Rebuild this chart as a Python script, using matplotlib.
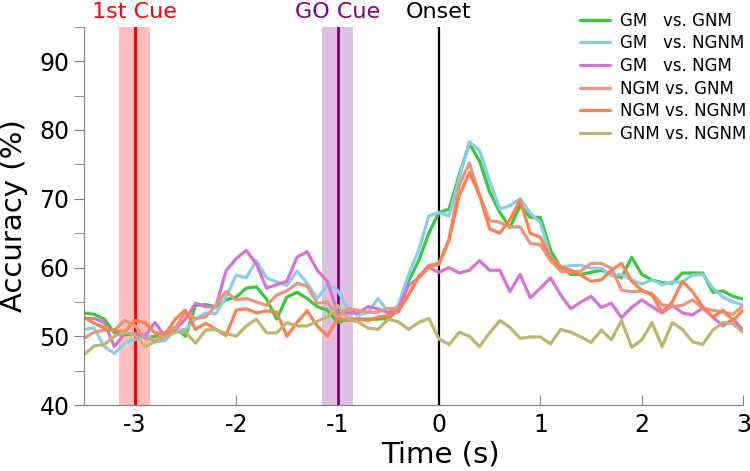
import numpy as np
import matplotlib
matplotlib.use("Agg")
import matplotlib.pyplot as plt
from matplotlib.ticker import MultipleLocator

plt.rcParams["font.family"] = "DejaVu Sans"
plt.rcParams["axes.unicode_minus"] = False

# time axis (s), 0.1 s steps from -3.5 to 3.0
time = np.round(np.arange(-35, 31) / 10, 1)

gm_gnm = [53.4, 53.2, 52.5, 50.5, 50.2, 50.3, 49.8, 50.0, 50.5, 51.3,
          50.0, 54.5, 54.6, 54.3, 55.3, 55.7, 57.0, 57.2, 55.4, 52.5,
          55.7, 56.4, 55.5, 54.3, 53.8, 52.0, 52.5, 52.5, 52.5, 52.5,
          52.6, 53.8, 58.0, 61.0, 65.0, 68.0, 68.5, 73.5, 78.0, 75.5,
          71.0, 68.0, 65.8, 69.0, 67.3, 67.3, 62.5, 60.0, 59.0, 59.0,
          59.3, 59.6, 59.0, 58.5, 61.5, 59.0, 58.2, 57.8, 57.7, 59.2,
          59.2, 59.2, 56.4, 56.6, 55.8, 55.4]
gm_ngnm = [51.0, 51.2, 48.5, 47.5, 49.0, 49.5, 50.4, 49.2, 49.4, 50.9,
           51.0, 52.5, 53.4, 53.3, 55.7, 58.9, 58.5, 61.0, 58.5, 57.9,
           57.4, 59.5, 57.7, 55.5, 57.5, 56.7, 54.1, 53.0, 53.5, 55.5,
           53.5, 54.5, 59.0, 62.5, 67.5, 68.0, 67.5, 73.0, 78.3, 77.0,
           72.5, 68.5, 69.0, 70.0, 67.9, 66.5, 61.5, 60.0, 60.3, 60.3,
           59.9, 59.9, 58.8, 59.0, 58.2, 57.6, 58.2, 57.5, 57.9, 57.9,
           58.9, 59.0, 57.0, 55.7, 55.0, 54.5]
gm_ngm = [52.6, 52.6, 52.0, 48.5, 50.4, 50.4, 50.0, 52.0, 50.0, 51.0,
          52.5, 54.8, 54.3, 54.3, 59.5, 61.3, 62.5, 60.5, 57.0, 57.5,
          58.0, 61.5, 62.3, 59.6, 58.0, 53.5, 53.4, 53.4, 54.3, 54.0,
          53.4, 54.0, 57.4, 58.5, 60.0, 59.3, 60.0, 59.2, 59.6, 61.0,
          59.6, 59.6, 56.5, 59.0, 55.6, 57.0, 58.5, 56.0, 54.0, 55.0,
          55.8, 54.2, 54.8, 52.7, 54.2, 55.3, 54.3, 53.4, 54.5, 53.4,
          53.1, 54.1, 52.8, 51.5, 52.5, 50.9]
ngm_gnm = [49.7, 50.6, 50.9, 50.9, 52.3, 51.6, 49.7, 49.4, 50.6, 51.2,
           53.5, 52.6, 52.8, 54.5, 56.5, 55.3, 55.5, 55.0, 54.5, 56.0,
           56.6, 57.7, 57.3, 54.8, 55.0, 52.8, 54.0, 53.8, 53.5, 53.5,
           54.1, 53.8, 56.0, 58.8, 60.0, 60.5, 64.2, 72.0, 75.2, 70.5,
           66.8, 66.6, 65.9, 65.9, 63.5, 63.3, 61.0, 59.5, 59.3, 59.5,
           60.6, 60.6, 59.9, 56.7, 56.5, 56.6, 56.2, 54.6, 54.3, 54.5,
           55.3, 54.1, 53.8, 53.5, 53.2, 54.5]
ngm_ngnm = [52.8, 51.9, 51.2, 50.9, 50.6, 52.3, 52.0, 50.5, 50.3, 52.5,
            53.8, 51.0, 51.9, 51.0, 50.1, 53.8, 54.0, 53.4, 53.7, 53.5,
            50.0, 52.0, 53.7, 51.5, 50.0, 52.6, 52.3, 52.5, 52.3, 52.8,
            53.0, 53.6, 56.0, 58.6, 60.3, 60.6, 64.0, 70.5, 73.8, 70.5,
            65.6, 65.0, 67.0, 69.8, 65.0, 64.4, 61.5, 60.1, 59.6, 58.9,
            58.0, 58.2, 59.6, 60.6, 58.0, 56.7, 56.0, 53.5, 55.0, 58.0,
            56.5, 54.3, 52.8, 53.8, 52.3, 53.8]
gnm_ngnm = [47.3, 48.6, 48.8, 50.0, 50.6, 50.2, 48.5, 49.2, 49.9, 50.6,
            50.6, 49.0, 50.9, 51.0, 50.4, 50.0, 51.5, 52.5, 50.5, 50.5,
            52.0, 51.5, 51.5, 52.2, 52.8, 54.5, 52.5, 52.1, 51.2, 51.0,
            52.5, 52.1, 51.0, 52.0, 52.6, 49.6, 48.8, 50.6, 50.0, 48.5,
            50.5, 52.3, 51.3, 49.7, 49.9, 49.9, 48.9, 51.0, 50.6, 49.9,
            49.1, 50.9, 49.5, 52.3, 48.4, 49.5, 52.0, 48.5, 52.0, 51.0,
            49.2, 48.8, 50.9, 52.0, 51.8, 50.6]

series = [gm_gnm, gm_ngnm, gm_ngm, ngm_gnm, ngm_ngnm, gnm_ngnm]
labels = ["GM   vs. GNM", "GM   vs. NGNM", "GM   vs. NGM",
          "NGM vs. GNM", "NGM vs. NGNM", "GNM vs. NGNM"]
colors = ["limegreen", "skyblue", "orchid", "darksalmon", "coral", "darkkhaki"]

events = [-3, -1, 0]
event_names = ["1st Cue", "GO Cue", "Onset"]
event_colors = ["red", "purple", "black"]

fig = plt.figure(figsize=(7.5, 4.71), dpi=100)
ax = fig.add_axes([0.112, 0.14, 0.879, 0.803])

# cue windows
ax.axvspan(-3.15, -2.85, color="red", alpha=0.25, lw=0)
ax.axvspan(-1.15, -0.85, color="purple", alpha=0.25, lw=0)
ax.axvline(-3, color="red", lw=2.2)
ax.axvline(-1, color="purple", lw=2.0)
ax.axvline(0, color="black", lw=1.6)

for y, lab, c in zip(series, labels, colors):
    ax.plot(time, y, color=c, lw=2.3, label=lab,
            solid_joinstyle="round", solid_capstyle="round")

for x, name, c in zip(events, event_names, event_colors):
    ax.text(x, 1.04, name, color=c, fontsize=16, ha="center", va="center",
            transform=ax.get_xaxis_transform())

ax.set_xlim(-3.5, 3)
ax.set_ylim(40, 95)
ax.set_xticks([-3, -2, -1, 0, 1, 2, 3])
ax.set_yticks([40, 50, 60, 70, 80, 90])
ax.yaxis.set_minor_locator(MultipleLocator(5))
ax.tick_params(axis="y", which="both", direction="out", length=7,
               color="grey", labelsize=17)
ax.tick_params(axis="x", direction="in", length=7, color="grey",
               labelsize=17, pad=6)

for s in ["top", "right"]:
    ax.spines[s].set_visible(False)
for s in ["left", "bottom"]:
    ax.spines[s].set_color("grey")

ax.set_xlabel("Time (s)", fontsize=21)
ax.set_ylabel("Accuracy (%)", fontsize=21)
ax.xaxis.set_label_coords(0.54, -0.095)
ax.yaxis.set_label_coords(-0.085, 0.5)

ax.legend(loc="upper right", bbox_to_anchor=(1.028, 1.08), frameon=False,
          fontsize=12, handlelength=1.8, handletextpad=0.6, labelspacing=0.28)

fig.savefig("out.png", dpi=100)
